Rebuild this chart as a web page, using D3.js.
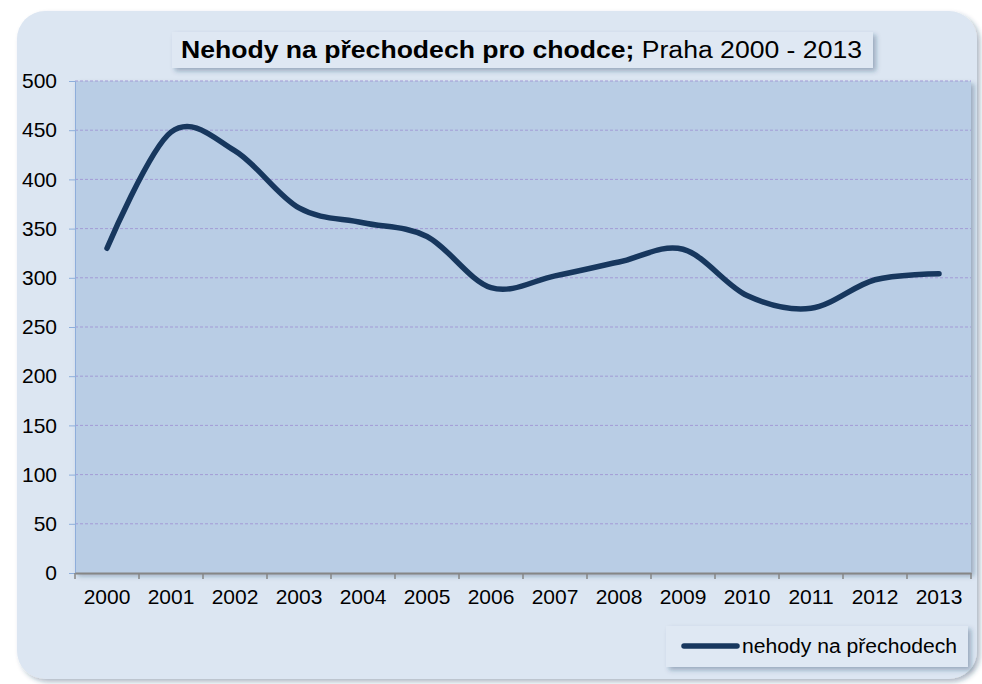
<!DOCTYPE html>
<html>
<head>
<meta charset="utf-8">
<script src="https://cdn.jsdelivr.net/npm/d3@7"></script>
<style>
  body { margin: 0; background: #fff; }
  text { font-family: "Liberation Sans", Arial, sans-serif; fill: #000; }
</style>
</head>
<body>
<script>
// data
var years = ["2000", "2001", "2002", "2003", "2004", "2005", "2006",
             "2007", "2008", "2009", "2010", "2011", "2012", "2013"];
var accidents = [330, 448, 429, 371, 356, 342, 290, 302, 316, 329, 282, 269, 298, 304];
var yTicks = [0, 50, 100, 150, 200, 250, 300, 350, 400, 450, 500];

var width = 982, height = 684;
var plotLeft = 75, plotRight = 971, plotTop = 81, plotBottom = 573;

var svg = d3.select("body").append("svg")
    .attr("width", width)
    .attr("height", height);

var defs = svg.append("defs");
var f = defs.append("filter").attr("id", "shadow")
    .attr("x", "-5%").attr("y", "-5%").attr("width", "115%").attr("height", "130%");
f.append("feDropShadow")
    .attr("dx", 3).attr("dy", 3).attr("stdDeviation", 2.5)
    .attr("flood-color", "#1f3a60").attr("flood-opacity", 0.35);

// outer chart area
svg.append("rect")
    .attr("x", 17).attr("y", 11)
    .attr("width", 960).attr("height", 668)
    .attr("rx", 28)
    .attr("fill", "#dce6f2")
    .attr("filter", "url(#shadow)");

var x = d3.scaleBand().domain(years).range([plotLeft, plotRight]);
var y = d3.scaleLinear().domain([0, 500]).range([plotBottom, plotTop]);

// plot area
svg.append("rect")
    .attr("x", plotLeft).attr("y", plotTop)
    .attr("width", plotRight - plotLeft).attr("height", plotBottom - plotTop)
    .attr("fill", "#b9cde5")
    .attr("filter", "url(#shadow)");

// gridlines
svg.selectAll("line.grid")
    .data(yTicks.filter(function(d) { return d > 0; }))
    .enter().append("line")
    .attr("class", "grid")
    .attr("x1", plotLeft).attr("x2", plotRight)
    .attr("y1", function(d) { return y(d); })
    .attr("y2", function(d) { return y(d); })
    .attr("stroke", "#a39bd6")
    .attr("stroke-width", 1)
    .attr("stroke-dasharray", "3,2");

// y axis
var yAxis = svg.append("g")
    .attr("transform", "translate(" + plotLeft + ",0)")
    .call(d3.axisLeft(y).tickValues(yTicks).tickSize(6).tickPadding(12));
yAxis.select(".domain").attr("stroke", "#8eaedb");
yAxis.selectAll(".tick line").attr("stroke", "#8eaedb");
yAxis.selectAll(".tick text")
    .style("font-size", "21px")
    .attr("fill", "#000");

// x axis
var xAxis = svg.append("g")
    .attr("transform", "translate(0," + plotBottom + ")")
    .call(d3.axisBottom(x).tickSize(0).tickPadding(16));
xAxis.select(".domain").attr("stroke", "#868686").attr("stroke-width", 2);
xAxis.selectAll(".tick text")
    .style("font-size", "21px")
    .attr("fill", "#000");

// category boundary ticks
var bounds = years.map(function(d) { return x(d); }).concat([plotRight]);
svg.selectAll("line.xtick")
    .data(bounds)
    .enter().append("line")
    .attr("class", "xtick")
    .attr("x1", function(d) { return d; })
    .attr("x2", function(d) { return d; })
    .attr("y1", plotBottom).attr("y2", plotBottom + 6)
    .attr("stroke", "#868686")
    .attr("stroke-width", 1.5);

// line
var line = d3.line()
    .x(function(d, i) { return x(years[i]) + x.bandwidth() / 2; })
    .y(function(d) { return y(d); })
    .curve(d3.curveCardinal.tension(0));

svg.append("path")
    .datum(accidents)
    .attr("d", line)
    .attr("fill", "none")
    .attr("stroke", "#17375e")
    .attr("stroke-width", 5.5)
    .attr("stroke-linecap", "round")
    .attr("stroke-linejoin", "round");

// title
svg.append("rect")
    .attr("x", 172).attr("y", 32)
    .attr("width", 701).attr("height", 36)
    .attr("fill", "#dfe8f3")
    .attr("filter", "url(#shadow)");

var title = svg.append("text")
    .attr("x", 181).attr("y", 58)
    .attr("textLength", 681)
    .attr("lengthAdjust", "spacingAndGlyphs")
    .style("font-size", "23px");
title.append("tspan").style("font-weight", "bold").text("Nehody na přechodech pro chodce;");
title.append("tspan").text(" Praha 2000 - 2013");

// legend
svg.append("rect")
    .attr("x", 666).attr("y", 626)
    .attr("width", 302).attr("height", 41)
    .attr("fill", "#dfe8f3")
    .attr("filter", "url(#shadow)");

svg.append("line")
    .attr("x1", 684).attr("x2", 737)
    .attr("y1", 646).attr("y2", 646)
    .attr("stroke", "#17375e")
    .attr("stroke-width", 5.5)
    .attr("stroke-linecap", "round");

svg.append("text")
    .attr("x", 742).attr("y", 653)
    .attr("textLength", 215)
    .attr("lengthAdjust", "spacingAndGlyphs")
    .style("font-size", "20px")
    .text("nehody na přechodech");
</script>
</body>
</html>
